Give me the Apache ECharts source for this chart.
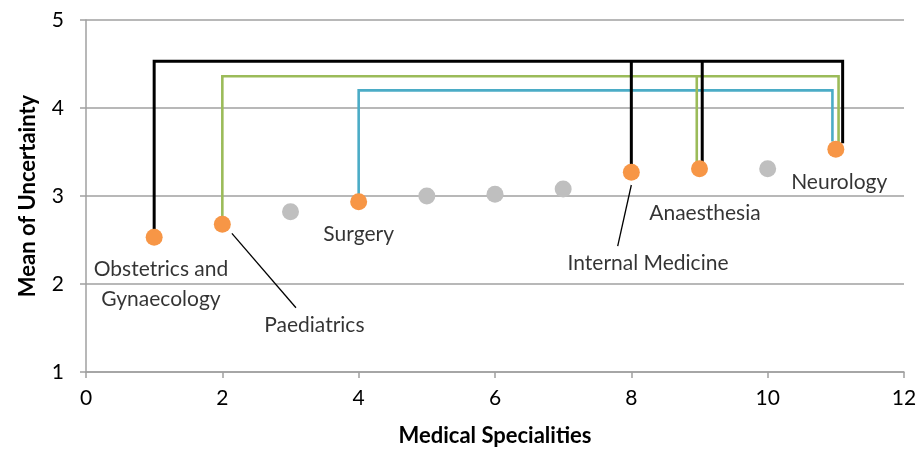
<!DOCTYPE html>
<html>
<head>
<meta charset="utf-8">
<script src="https://cdn.jsdelivr.net/npm/echarts@6/dist/echarts.min.js"></script>
<style>html,body{margin:0;padding:0;background:#fff}#c{width:921px;height:452px}</style>
</head>
<body>
<div id="c"></div>
<script>
// ---- data ----
const specialities = [1, 2, 3, 4, 5, 6, 7, 8, 9, 10, 11];
const means = [2.53, 2.68, 2.82, 2.935, 3.00, 3.02, 3.08, 3.27, 3.31, 3.31, 3.53];
const highlighted = [1, 1, 0, 1, 0, 0, 0, 1, 1, 0, 1];
const xTicks = [0, 2, 4, 6, 8, 10, 12];
const yTicks = [1, 2, 3, 4, 5];

// significance brackets (data units)
const blackPath = [[1, 2.53], [1, 4.53], [11.1, 4.53], [11.1, 3.6]];
const blackDrops = [[8, 4.53, 3.27], [9.04, 4.53, 3.31]];
const greenPath = [[2, 2.68], [2, 4.36], [11.04, 4.36], [11.04, 3.6]];
const greenDrops = [[8.96, 4.36, 3.31]];
const bluePath = [[4, 2.935], [4, 4.20], [10.95, 4.20], [10.95, 3.62]];

// annotations
const labelNames = ['Obstetrics and\nGynaecology', 'Paediatrics', 'Surgery', 'Internal Medicine', 'Anaesthesia', 'Neurology'];
const labelAnchors = [[1.10, 2.00], [3.35, 1.53], [4.00, 2.56], [8.245, 2.24], [9.08, 2.80], [11.05, 3.16]];
const leaderLines = [[[2.14, 2.575], [3.08, 1.73]], [[8.0, 3.125], [7.80, 2.43]]];

// ---- chart ----
const chart = echarts.init(document.getElementById('c'));
const FONT = 'Lato';
const series = [];
function pathSeries(pts, color, w) {
  return { type: 'line', data: pts, symbol: 'none', silent: true, z: 2,
    lineStyle: { color: color, width: w, cap: 'butt', join: 'miter' }, animation: false };
}
series.push(pathSeries(bluePath, '#4BACC6', 2.6));
series.push(pathSeries(greenPath, '#9BBB59', 2.6));
greenDrops.forEach(d => series.push(pathSeries([[d[0], d[1]], [d[0], d[2]]], '#9BBB59', 2.6)));
series.push(pathSeries(blackPath, '#000000', 3));
blackDrops.forEach(d => series.push(pathSeries([[d[0], d[1]], [d[0], d[2]]], '#000000', 3)));
leaderLines.forEach(l => series.push(pathSeries(l, '#000000', 1.3)));

series.push({
  type: 'scatter', z: 5, symbolSize: 17, animation: false,
  data: specialities.map((x, i) => ({ value: [x, means[i]],
    itemStyle: { color: highlighted[i] ? '#F79646' : '#BFBFBF', opacity: 1 } }))
});
series.push({
  type: 'scatter', z: 6, symbolSize: 0, animation: false, silent: true,
  data: labelAnchors.map((p, i) => ({ value: p, name: labelNames[i] })),
  label: { show: true, position: 'inside', formatter: p => p.name,
    fontFamily: FONT, fontSize: 21, color: '#000', lineHeight: 30, align: 'center', verticalAlign: 'middle' }
});

chart.setOption({
  animation: false,
  grid: { left: 86, right: 17, top: 20, bottom: 80 },
  xAxis: {
    type: 'value', min: xTicks[0], max: xTicks[xTicks.length - 1], interval: 2,
    name: 'Medical Specialities', nameLocation: 'middle', nameGap: 53,
    nameTextStyle: { fontFamily: FONT, fontSize: 22, fontWeight: 'bold', color: '#000' },
    axisLine: { show: true, lineStyle: { color: '#A0A0A0', width: 1.5 } },
    axisTick: { show: true, length: 6, lineStyle: { color: '#A0A0A0', width: 1.5 } },
    axisLabel: { fontFamily: FONT, fontSize: 21, color: '#000', margin: 16 },
    splitLine: { show: false }
  },
  yAxis: {
    type: 'value', min: yTicks[0], max: yTicks[yTicks.length - 1], interval: 1,
    name: 'Mean of Uncertainty', nameLocation: 'middle', nameGap: 47, nameRotate: 90,
    nameTextStyle: { fontFamily: FONT, fontSize: 22, fontWeight: 'bold', color: '#000' },
    axisLine: { show: true, lineStyle: { color: '#A0A0A0', width: 1.5 } },
    axisTick: { show: true, length: 6, lineStyle: { color: '#A0A0A0', width: 1.5 } },
    axisLabel: { fontFamily: FONT, fontSize: 21, color: '#000', margin: 22 },
    splitLine: { show: true, lineStyle: { color: '#A0A0A0', width: 1.5 } }
  },
  series: series
});
</script>
</body>
</html>
